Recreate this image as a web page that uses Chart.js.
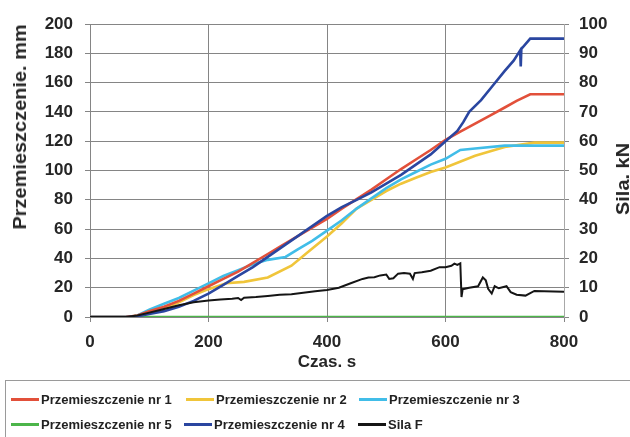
<!DOCTYPE html>
<html><head><meta charset="utf-8">
<script src="https://cdn.jsdelivr.net/npm/chart.js@4"></script>
<style>
html,body{margin:0;padding:0;background:#fff;}
#wrap{position:relative;width:630px;height:437px;overflow:hidden;background:#fff;}
#c{position:absolute;left:0;top:0;}
#legend{position:absolute;left:5px;top:380px;width:660px;height:70px;border:1px solid #9a9a9a;font:bold 13px "Liberation Sans",Arial,sans-serif;color:#222;box-sizing:border-box;}
.item{position:absolute;display:flex;align-items:center;white-space:nowrap;height:16px;}
.sw{display:inline-block;width:28px;height:3px;margin-right:2px;}
.vt{position:absolute;width:0;height:0;}
.vt span{position:absolute;left:0;top:0;white-space:nowrap;font:bold 19px "Liberation Sans",Arial,sans-serif;color:#262626;line-height:20px;transform:translate(-50%,-50%) rotate(-90deg) scale(1.05,1);}
</style></head>
<body>
<div id="wrap">
<canvas id="c" width="630" height="437"></canvas>
<div class="vt" id="yt" style="left:20px;top:127px;"><span></span></div>
<div class="vt" id="y1t" style="left:623px;top:179px;"><span></span></div>
<div id="legend"></div>
</div>
<script>
// ---- data ----
const xTitle = 'Czas. s';
const yTitle = 'Przemieszczenie. mm';
const y1Title = 'Sila. kN';

const redT = [0, 60, 80, 100, 125, 150, 175, 200, 225, 250, 275, 300, 325, 350, 375, 400, 425, 450, 475, 500, 525, 550, 575, 600, 625, 650, 675, 700, 720, 743, 800];
const redV = [0, 0, 1, 4, 7, 11, 16, 21, 26, 31, 37, 43, 49, 55, 61, 67, 74, 80.5, 87, 94, 101, 107.5, 114, 121, 126.5, 132, 137.5, 143, 147.5, 152, 152];

const yellowT = [0, 65, 80, 100, 125, 150, 175, 200, 230, 260, 300, 340, 370, 400, 425, 450, 475, 500, 525, 550, 575, 600, 650, 700, 750, 800];
const yellowV = [0, 0, 1, 3, 6, 10, 15, 19, 23, 24, 27, 35, 45, 55, 64, 74, 80, 86, 91, 95, 99, 102, 110, 116, 119, 119];

const cyanT = [0, 65, 80, 100, 125, 150, 175, 200, 225, 250, 275, 300, 330, 350, 375, 400, 425, 450, 475, 500, 525, 550, 575, 600, 625, 650, 700, 800];
const cyanV = [0, 0, 1, 5, 9, 13, 18, 23, 28, 32, 36, 39, 41, 46, 52, 59, 66, 74, 81, 88, 94, 99, 104, 108, 114, 115, 117, 117];

const greenT = [0, 800];
const greenV = [0, 0];

const blueT = [0, 65, 80, 100, 125, 150, 175, 200, 225, 250, 275, 300, 325, 350, 375, 400, 425, 450, 475, 500, 525, 550, 575, 600, 620, 630, 640, 660, 680, 700, 715, 726, 727, 728, 743, 800];
const blueV = [0, 0, 0.5, 2, 4, 7, 11, 16, 22, 28, 34, 41, 48, 55, 62, 69, 75, 80, 85, 91, 97, 104, 111, 120, 127, 133, 140, 148, 158, 168, 175, 182, 171, 183, 190, 190];

const forceT = [0, 60, 80, 100, 120, 150, 175, 200, 220, 240, 250, 255, 260, 280, 300, 320, 340, 360, 380, 400, 420, 440, 460, 470, 480, 490, 500, 505, 512, 520, 530, 540, 545, 548, 560, 575, 590, 600, 610, 615, 620, 625, 627, 629, 640, 655, 663, 668, 672, 678, 683, 690, 703, 710, 720, 735, 750, 800];
const forceV = [0, 0, 0.5, 1.5, 2.5, 4, 5, 5.6, 6, 6.2, 6.5, 5.8, 6.6, 6.8, 7.2, 7.6, 7.8, 8.3, 8.8, 9.2, 10, 11.5, 13, 13.5, 13.6, 14.2, 14.5, 13, 13.2, 14.8, 15, 14.8, 13, 15, 15.3, 15.8, 17, 17, 17.5, 18.2, 17.8, 18.3, 6.8, 9.5, 10, 10.5, 13.5, 12.5, 9.6, 8, 10.5, 9.8, 10.5, 8.5, 7.6, 7.3, 8.9, 8.6];

const xTicksStep = 200;
const yTicksStep = 20;
const y1TicksStep = 10;

// ---- build ----
const pts = (t, v) => t.map((x, i) => ({x: x, y: v[i]}));
const FONT = {family: '"Liberation Sans", Arial, sans-serif', size: 17, weight: 'bold'};
const GRID = '#858585';
const TXT = '#262626';

document.querySelector('#yt span').textContent = yTitle;
document.querySelector('#y1t span').textContent = y1Title;

const series = [
  {label: 'Przemieszczenie nr 1', color: '#e2503a', t: redT, v: redV, axis: 'y', order: 2, w: 2.6},
  {label: 'Przemieszczenie nr 2', color: '#f0c53a', t: yellowT, v: yellowV, axis: 'y', order: 4, w: 2.6},
  {label: 'Przemieszczenie nr 3', color: '#41bde8', t: cyanT, v: cyanV, axis: 'y', order: 3, w: 2.6},
  {label: 'Przemieszczenie nr 5', color: '#4cb54a', t: greenT, v: greenV, axis: 'y', order: 5, w: 2.6},
  {label: 'Przemieszczenie nr 4', color: '#2a46a0', t: blueT, v: blueV, axis: 'y', order: 1, w: 2.6},
  {label: 'Sila F', color: '#151515', t: forceT, v: forceV, axis: 'y1', order: 0, w: 2}
];

const legendPos = [[5, 10], [180, 10], [353, 10], [5, 35], [178, 35], [352, 35]];

const leg = document.getElementById('legend');
series.forEach((s, i) => {
  const d = document.createElement('div');
  d.className = 'item';
  d.style.left = legendPos[i][0] + 'px';
  d.style.top = legendPos[i][1] + 'px';
  const sw = document.createElement('span');
  sw.className = 'sw';
  sw.style.background = s.color;
  d.appendChild(sw);
  d.appendChild(document.createTextNode(s.label));
  leg.appendChild(d);
});

new Chart(document.getElementById('c').getContext('2d'), {
  type: 'line',
  data: {
    datasets: series.map(s => ({
      label: s.label,
      data: pts(s.t, s.v),
      borderColor: s.color,
      backgroundColor: s.color,
      borderWidth: s.w,
      yAxisID: s.axis,
      order: s.order,
      pointRadius: 0,
      tension: 0,
      fill: false
    }))
  },
  options: {
    responsive: false,
    animation: false,
    devicePixelRatio: 1,
    layout: {padding: {top: 24, bottom: 64, left: 0, right: 0}},
    plugins: {legend: {display: false}, tooltip: {enabled: false}},
    scales: {
      x: {
        type: 'linear', min: 0, max: 800,
        ticks: {stepSize: xTicksStep, padding: 10, font: FONT, color: TXT, maxRotation: 0},
        grid: {color: GRID, tickLength: 5, lineWidth: 1},
        border: {color: GRID},
        title: {display: true, text: xTitle, font: FONT, color: TXT, padding: {top: 0, bottom: 0}},
        afterFit: s => { s.height = 56; }
      },
      y: {
        position: 'left', min: 0, max: 200,
        ticks: {stepSize: yTicksStep, padding: 12, font: FONT, color: TXT},
        grid: {color: GRID, tickLength: 5},
        border: {color: GRID},
        title: {display: false},
        afterFit: s => { s.width = 90; }
      },
      y1: {
        position: 'right', min: 0, max: 100,
        ticks: {stepSize: y1TicksStep, padding: 10, font: FONT, color: TXT},
        grid: {drawOnChartArea: false, color: GRID, tickLength: 5},
        border: {color: '#a8a8a8'},
        title: {display: false},
        afterFit: s => { s.width = 66; }
      }
    }
  }
});
</script>
</body></html>
